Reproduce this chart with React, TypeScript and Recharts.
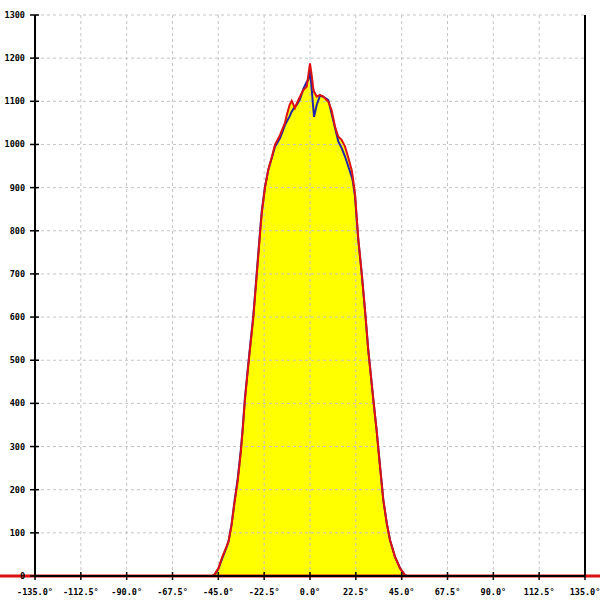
import {
  ComposedChart,
  Area,
  Line,
  XAxis,
  YAxis,
  CartesianGrid,
  ReferenceLine,
} from "recharts";

// angle (deg) and the two measured profiles
const ANGLES = [
  -135, -48, -47, -45, -43, -41, -40, -38.5, -37, -35.5, -34, -33, -32, -30.5, -29.5,
  -27.8, -26.2, -24.5, -23.7, -22.1, -20.5, -18.8, -17.2, -14.7, -12.3, -11.4, -10, -9,
  -7.4, -6.5, -4.9, -3.3, -1.6, -0.8, 0, 0.8, 1.6, 2.0, 3.3, 4.9, 6.5, 9.0, 10.6, 12.3,
  13.9, 15.6, 17.2, 18.8, 20.5, 21.0, 22.1, 23.7, 25.4, 27.0, 28.6, 31.1, 32.7, 34.4,
  36.0, 37.7, 39.3, 41.7, 44.2, 46.6, 47.5, 135,
];

const RED = [
  0, 0, 3, 18, 45, 68, 80, 118, 172, 220, 285, 340, 405, 478, 524,
  600, 694, 794, 840, 900, 941, 970, 999, 1022, 1050, 1068, 1092, 1101,
  1084, 1095, 1111, 1126, 1134, 1161, 1188, 1161, 1130, 1122, 1111, 1115, 1111, 1099, 1080, 1041,
  1018, 1010, 995, 970, 940, 925, 885, 782, 701, 616, 524, 408, 338, 253,
  176, 122, 83, 45, 18, 2, 0, 0,
];

const BLUE = [
  0, 0, 2, 16, 42, 66, 80, 120, 175, 225, 290, 345, 410, 482, 528,
  605, 700, 800, 845, 902, 941, 968, 995, 1015, 1045, 1053, 1065, 1076,
  1088, 1092, 1105, 1128, 1145, 1150, 1173, 1130, 1084, 1064, 1092, 1113, 1111, 1103, 1072, 1038,
  1007, 991, 972, 949, 925, 915, 880, 779, 700, 616, 524, 408, 338, 253,
  176, 122, 83, 45, 18, 2, 0, 0,
];

const X_TICKS = [-135, -112.5, -90, -67.5, -45, -22.5, 0, 22.5, 45, 67.5, 90, 112.5, 135];
const Y_TICKS = [0, 100, 200, 300, 400, 500, 600, 700, 800, 900, 1000, 1100, 1200, 1300];

// red baseline runs past the plot edges
const BASELINE_SPAN = [-152.2, 142.4];

const data = ANGLES.map((a, i) => ({ angle: a, red: RED[i], blue: BLUE[i] }));

const FONT = "'DejaVu Sans Mono', monospace";

const XTick = (props: any) => {
  const { x, y, payload } = props;
  return (
    <g>
      <line x1={x} x2={x} y1={y - 4} y2={y + 4} stroke="#000" strokeWidth={1.5} />
      <text x={x} y={y + 19} textAnchor="middle" fontFamily={FONT} fontSize={8.5} fontWeight="bold" fill="#000">
        {`${payload.value.toFixed(1)}°`}
      </text>
    </g>
  );
};

const YTick = (props: any) => {
  const { x, y, payload } = props;
  return (
    <g>
      <line x1={x - 5} x2={x + 4} y1={y} y2={y} stroke="#000" strokeWidth={1.5} />
      <text x={x - 10} y={y + 3} textAnchor="end" fontFamily={FONT} fontSize={8.5} fontWeight="bold" fill="#000">
        {payload.value}
      </text>
    </g>
  );
};

export default function App() {
  return (
    <div style={{ position: "absolute", left: 0, top: 0, width: 600, height: 600, background: "#fff" }}>
      <ComposedChart
        width={600}
        height={600}
        data={data}
        margin={{ top: 15, right: 15, bottom: 0, left: 0 }}
      >
        <XAxis
          type="number"
          dataKey="angle"
          domain={[-135, 135]}
          ticks={X_TICKS}
          interval={0}
          height={24}
          tickSize={0}
          tickMargin={0}
          tickLine={false}
          axisLine={{ stroke: "#000", strokeWidth: 2 }}
          tick={<XTick />}
        />
        <YAxis
          type="number"
          domain={[0, 1300]}
          ticks={Y_TICKS}
          interval={0}
          width={35}
          tickSize={0}
          tickMargin={0}
          tickLine={false}
          axisLine={{ stroke: "#000", strokeWidth: 2 }}
          tick={<YTick />}
        />
        <Area
          type="linear"
          dataKey="red"
          stroke="none"
          fill="#ffff00"
          fillOpacity={1}
          isAnimationActive={false}
        />
        <CartesianGrid stroke="#c4c4c4" strokeDasharray="3 3" zIndex={150} />
        <ReferenceLine x={135} stroke="#000" strokeWidth={2} />
        <ReferenceLine
          segment={[
            { x: BASELINE_SPAN[0], y: 0 },
            { x: BASELINE_SPAN[1], y: 0 },
          ]}
          ifOverflow="visible"
          stroke="#dd1111"
          strokeWidth={3}
        />
        <Line
          type="linear"
          dataKey="blue"
          stroke="#2222aa"
          strokeWidth={2}
          dot={false}
          isAnimationActive={false}
        />
        <Line
          type="linear"
          dataKey="red"
          stroke="#dd1111"
          strokeWidth={2}
          dot={false}
          isAnimationActive={false}
        />
      </ComposedChart>
    </div>
  );
}
